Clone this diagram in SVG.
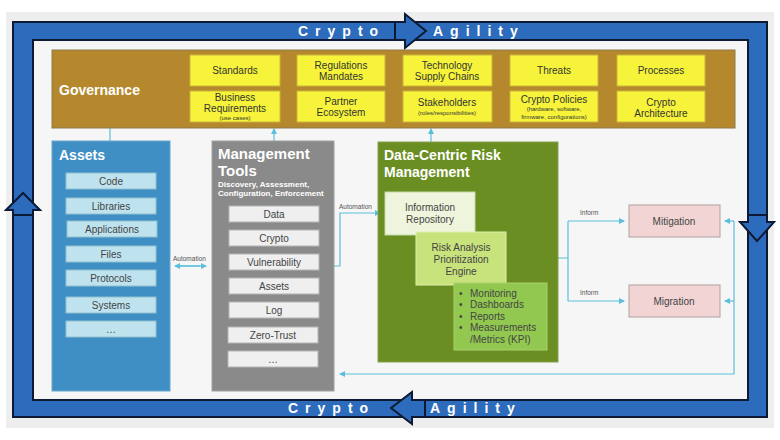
<svg xmlns="http://www.w3.org/2000/svg" width="780" height="440" viewBox="0 0 780 440">
<style>
text{font-family:"Liberation Sans",Arial,sans-serif}
.gov{fill:#f6f33a;stroke:#c9b53a;stroke-width:1}
.gt{font-size:10px;fill:#333;text-anchor:middle}
.gs{font-size:6px;fill:#333;text-anchor:middle}
.ai{fill:#bfe3ee;stroke:#8fbfd0}
.mi{fill:#efefef;stroke:#b5b5b5}
.it{font-size:10px;fill:#444;text-anchor:middle}
.ttl{font-weight:bold;fill:#fff}
.c{fill:none;stroke:#5bbfdc;stroke-width:1.2}
.lb{font-size:6.5px;fill:#555}
.band{font-size:14px;font-weight:bold;fill:#fff;letter-spacing:7px}
.arr{fill:#2d6bbd;stroke:#0d1a33;stroke-width:2}
</style>
<defs>
<marker id="a" markerWidth="6" markerHeight="6" refX="5" refY="3" orient="auto" markerUnits="userSpaceOnUse"><path d="M0,0L6,3L0,6z" fill="#5bbfdc"/></marker>
</defs>
<rect x="0" y="0" width="780" height="440" fill="#fff"/>
<rect x="6" y="12" width="768" height="416" fill="#eeeeee"/>
<!-- frame -->
<rect x="13" y="22" width="754" height="395" fill="#2d6bbd" stroke="#0d1a33" stroke-width="2"/>
<rect x="33" y="40" width="715" height="360" fill="#f6f6f6" stroke="#0d1a33" stroke-width="2"/>
<path class="arr" d="M395,22 L405,22 L405,14 L426,31 L405,48 L405,40 L395,40z" />
<path class="arr" d="M13,215 L13,210 L6,210 L23,193 L40,210 L33,210 L33,215z" />
<path class="arr" d="M748,215 L748,222 L740,222 L757,241 L774,222 L767,222 L767,215z" />
<path class="arr" d="M425,400 L412,400 L412,392 L391,408 L412,424 L412,417 L425,417z" />
<text class="band" x="298" y="36">Crypto</text>
<text class="band" x="433" y="36">Agility</text>
<text class="band" x="288" y="413">Crypto</text>
<text class="band" x="430" y="413">Agility</text>
<!-- connectors -->
<g id="connectors">
<path class="c" d="M110,141V128"/>
<path class="c" d="M274,141V129" marker-end="url(#a)"/>
<path class="c" d="M431,142V129" marker-end="url(#a)"/>
<path class="c" d="M180,266H206" marker-end="url(#a)"/>
<path class="c" d="M200,266H175" marker-end="url(#a)"/>
<path class="c" d="M334,266H340V213H380" marker-end="url(#a)"/>
<path class="c" d="M400,238V258H411" marker-end="url(#a)"/>
<path class="c" d="M400,250V240" marker-end="url(#a)"/>
<path class="c" d="M436,287V307H449" marker-end="url(#a)"/>
<path class="c" d="M436,298V288" marker-end="url(#a)"/>
<path class="c" d="M506,258H568"/>
<path class="c" d="M568,221V301"/>
<path class="c" d="M568,221H624" marker-end="url(#a)"/>
<path class="c" d="M568,301H624" marker-end="url(#a)"/>
<path class="c" d="M734,221H725" marker-end="url(#a)"/>
<path class="c" d="M734,301H725" marker-end="url(#a)"/>
<path class="c" d="M734,221V374H340" marker-end="url(#a)"/>
<text class="lb" x="173" y="261">Automation</text>
<text class="lb" x="339" y="209">Automation</text>
<text class="lb" x="580" y="215">Inform</text>
<text class="lb" x="580" y="295">Inform</text>
</g>
<!-- governance -->
<g id="governance">
<rect x="52" y="50" width="683" height="78" fill="#b5882e" stroke="#8a7a4a"/>
<text class="ttl" x="59" y="95" font-size="14">Governance</text>
<rect class="gov" x="190" y="55" width="90" height="31"/><text class="gt" x="235" y="74">Standards</text>
<rect class="gov" x="297" y="55" width="88" height="31"/><text class="gt" x="341" y="69">Regulations</text><text class="gt" x="341" y="80">Mandates</text>
<rect class="gov" x="403" y="55" width="89" height="31"/><text class="gt" x="447" y="69">Technology</text><text class="gt" x="447" y="80">Supply Chains</text>
<rect class="gov" x="510" y="55" width="88" height="31"/><text class="gt" x="554" y="74">Threats</text>
<rect class="gov" x="617" y="55" width="88" height="31"/><text class="gt" x="661" y="74">Processes</text>
<rect class="gov" x="190" y="91" width="90" height="31"/><text class="gt" x="235" y="101">Business</text><text class="gt" x="235" y="112">Requirements</text><text class="gs" x="235" y="120">(use cases)</text>
<rect class="gov" x="297" y="91" width="88" height="31"/><text class="gt" x="341" y="105">Partner</text><text class="gt" x="341" y="116">Ecosystem</text>
<rect class="gov" x="403" y="91" width="89" height="31"/><text class="gt" x="447" y="106">Stakeholders</text><text class="gs" x="447" y="115">(roles/responsibilities)</text>
<rect class="gov" x="510" y="91" width="88" height="31"/><text class="gt" x="554" y="103">Crypto Policies</text><text class="gs" x="554" y="111">(hardware, software,</text><text class="gs" x="554" y="119">firmware, configurations)</text>
<rect class="gov" x="617" y="91" width="88" height="31"/><text class="gt" x="661" y="106">Crypto</text><text class="gt" x="661" y="117">Architecture</text>
</g>
<!-- assets -->
<g id="assets">
<rect x="52" y="141" width="118" height="250" fill="#3f8fc4" stroke="#6aa6cc"/>
<text class="ttl" x="59" y="160" font-size="14">Assets</text>
<rect class="ai" x="66" y="173" width="90" height="16"/><text class="it" x="111" y="185">Code</text>
<rect class="ai" x="66" y="198" width="90" height="16"/><text class="it" x="111" y="210">Libraries</text>
<rect class="ai" x="67" y="221" width="90" height="16"/><text class="it" x="112" y="233">Applications</text>
<rect class="ai" x="66" y="246" width="90" height="16"/><text class="it" x="111" y="258">Files</text>
<rect class="ai" x="66" y="270" width="90" height="16"/><text class="it" x="111" y="282">Protocols</text>
<rect class="ai" x="66" y="297" width="90" height="16"/><text class="it" x="111" y="309">Systems</text>
<rect class="ai" x="66" y="321" width="90" height="16"/><text class="it" x="111" y="333">…</text>
</g>
<!-- management -->
<g id="management">
<rect x="212" y="141" width="122" height="250" fill="#8a8a8a" stroke="#a0a0a0"/>
<text class="ttl" x="218" y="159" font-size="15">Management</text>
<text class="ttl" x="218" y="176" font-size="15">Tools</text>
<text class="ttl" x="218" y="187" font-size="8">Discovery, Assessment,</text>
<text class="ttl" x="218" y="196" font-size="8">Configuration, Enforcement</text>
<rect class="mi" x="229" y="206" width="90" height="16"/><text class="it" x="274" y="218">Data</text>
<rect class="mi" x="229" y="230" width="90" height="16"/><text class="it" x="274" y="242">Crypto</text>
<rect class="mi" x="229" y="254" width="90" height="16"/><text class="it" x="274" y="266">Vulnerability</text>
<rect class="mi" x="229" y="278" width="90" height="16"/><text class="it" x="274" y="290">Assets</text>
<rect class="mi" x="229" y="302" width="90" height="16"/><text class="it" x="274" y="314">Log</text>
<rect class="mi" x="228" y="327" width="90" height="16"/><text class="it" x="273" y="339">Zero-Trust</text>
<rect class="mi" x="228" y="351" width="90" height="16"/><text class="it" x="273" y="363">…</text>
</g>
<!-- data-centric -->
<g id="datacentric">
<rect x="378" y="142" width="180" height="220" fill="#6b8e23" stroke="#88a050"/>
<text class="ttl" x="384" y="160" font-size="14">Data-Centric Risk</text>
<text class="ttl" x="384" y="177" font-size="14">Management</text>
</g>
<g id="inforepo">
<rect x="385" y="192" width="90" height="43" fill="#eef5dc" stroke="#c8d8a8"/>
<text class="it" x="430" y="211">Information</text><text class="it" x="430" y="223">Repository</text>
</g>
<g id="riskengine">
<rect x="416" y="232" width="90" height="53" fill="#c8e27c" stroke="#e0efb0"/>
<text class="it" x="461" y="251">Risk Analysis</text><text class="it" x="461" y="263">Prioritization</text><text class="it" x="461" y="275">Engine</text>
</g>
<g id="monitoring">
<rect x="454" y="283" width="93" height="67" fill="#92c850" stroke="#a8d070"/>
<g font-size="10" fill="#444">
<text x="459" y="297">•</text><text x="470" y="297">Monitoring</text>
<text x="459" y="308">•</text><text x="470" y="308">Dashboards</text>
<text x="459" y="320">•</text><text x="470" y="320">Reports</text>
<text x="459" y="331">•</text><text x="470" y="331">Measurements</text>
<text x="470" y="343">/Metrics (KPI)</text>
</g>
</g>
<g id="mitigation">
<rect x="629" y="205" width="91" height="32" fill="#f2d4d4" stroke="#b0a0a0"/>
<text class="it" x="674" y="225" fill="#333">Mitigation</text>
</g>
<g id="migration">
<rect x="629" y="285" width="91" height="32" fill="#f2d4d4" stroke="#b0a0a0"/>
<text class="it" x="674" y="305" fill="#333">Migration</text>
</g>
</svg>
